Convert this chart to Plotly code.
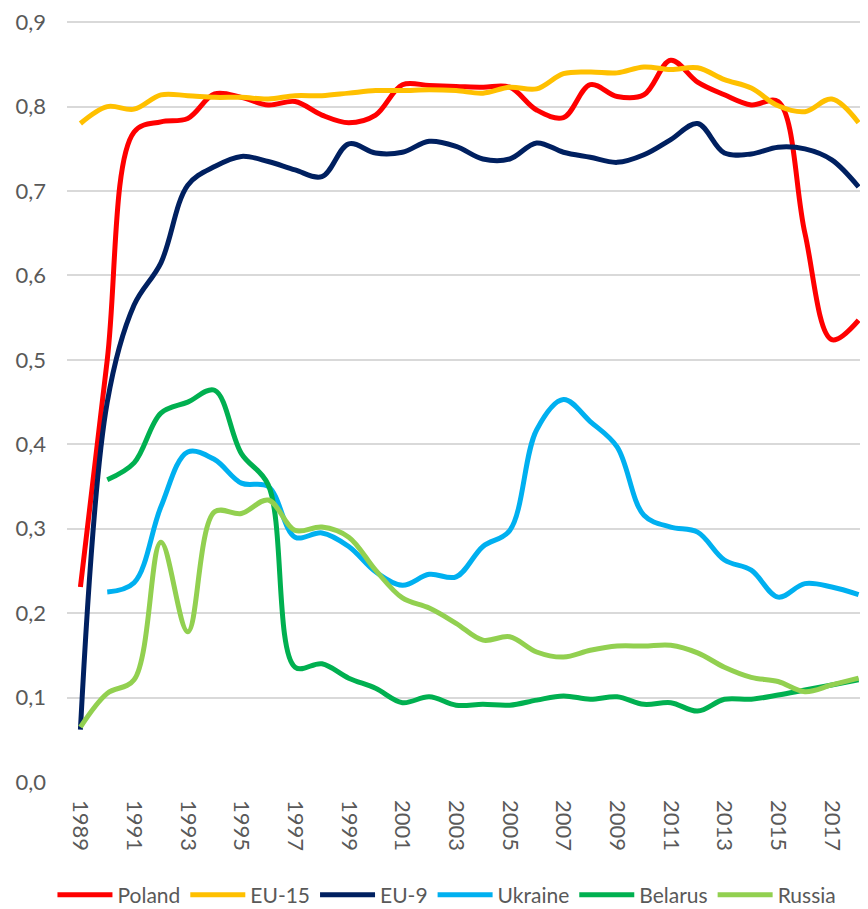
import plotly.graph_objects as go

years = list(range(1989, 2019))

poland = [0.231, 0.50, 0.770, 0.782, 0.786, 0.815, 0.811, 0.802, 0.806, 0.790,
          0.781, 0.790, 0.826, 0.825, 0.824, 0.823, 0.823, 0.796, 0.787, 0.826,
          0.812, 0.814, 0.855, 0.829, 0.814, 0.802, 0.806, 0.650, 0.524, 0.547]
eu15 = [0.780, 0.800, 0.797, 0.814, 0.813, 0.811, 0.811, 0.809, 0.813, 0.813,
        0.816, 0.819, 0.819, 0.820, 0.819, 0.816, 0.823, 0.821, 0.839, 0.841,
        0.840, 0.847, 0.844, 0.846, 0.832, 0.822, 0.801, 0.794, 0.809, 0.781]
eu9 = [0.062, 0.450, 0.565, 0.615, 0.707, 0.729, 0.741, 0.735, 0.725, 0.717,
       0.756, 0.745, 0.746, 0.759, 0.753, 0.738, 0.738, 0.757, 0.746, 0.740,
       0.734, 0.743, 0.761, 0.780, 0.745, 0.744, 0.752, 0.750, 0.737, 0.705]
ukraine = [None, 0.225, 0.236, 0.326, 0.391, 0.382, 0.354, 0.350, 0.290, 0.295,
           0.279, 0.249, 0.233, 0.246, 0.243, 0.279, 0.298, 0.417, 0.453, 0.427,
           0.397, 0.316, 0.302, 0.296, 0.263, 0.251, 0.219, 0.235, 0.231, 0.222]
belarus = [None, 0.358, 0.378, 0.437, 0.450, 0.464, 0.389, 0.352, 0.136, 0.140,
           0.123, 0.111, 0.094, 0.101, 0.091, 0.092, 0.091, 0.097, 0.102, 0.098,
           0.101, 0.092, 0.094, 0.084, 0.098, 0.098, 0.103, 0.109, 0.115, 0.121]
russia = [0.065, 0.105, 0.121, 0.284, 0.178, 0.320, 0.318, 0.334, 0.298, 0.302,
          0.290, 0.251, 0.218, 0.206, 0.188, 0.168, 0.172, 0.154, 0.148, 0.156,
          0.161, 0.161, 0.162, 0.153, 0.136, 0.124, 0.119, 0.107, 0.115, 0.123]

series = [
    ("Poland", poland, "#FF0000"),
    ("EU-15", eu15, "#FFC000"),
    ("EU-9", eu9, "#002060"),
    ("Ukraine", ukraine, "#00B0F0"),
    ("Belarus", belarus, "#00B050"),
    ("Russia", russia, "#92D050"),
]

tick_years = list(range(1989, 2018, 2))
tick_labels = [str(y) for y in tick_years]
y_ticks = [i / 10 for i in range(10)]
y_labels = ["0,%d" % i for i in range(10)]

fig = go.Figure()
for name, vals, color in series:
    fig.add_trace(go.Scatter(
        x=years, y=vals, name=name, mode="lines",
        line=dict(color=color, width=5, shape="spline", smoothing=1),
        connectgaps=False,
    ))

fig.update_layout(
    width=868, height=909,
    margin=dict(l=59, r=4, t=10, b=135, autoexpand=False),
    paper_bgcolor="white", plot_bgcolor="white",
    font=dict(family="Lato", size=22, color="#595959"),
    showlegend=True,
    legend=dict(orientation="h", x=0.472, xanchor="center", y=-0.148, yanchor="middle",
                font=dict(size=21, color="#595959"), itemwidth=55,
                traceorder="normal", tracegroupgap=0),
)
fig.update_xaxes(
    range=[1988.5, 2018.5], tickmode="array", tickvals=tick_years, ticktext=tick_labels,
    tickangle=90, showgrid=False, zeroline=False, showline=False, ticks="",
    tickfont=dict(size=22, color="#595959"), automargin=False, ticklabelstandoff=17,
    ticklabeloverflow="allow",
)
fig.update_yaxes(
    range=[0, 0.905], tickmode="array", tickvals=y_ticks, ticktext=y_labels,
    showgrid=True, gridcolor="#D9D9D9", gridwidth=2, zeroline=False, showline=False,
    ticks="", tickfont=dict(size=22, color="#595959"), ticklabelstandoff=20,
    automargin=False, ticklabeloverflow="allow",
)

fig.write_html("out.html")
